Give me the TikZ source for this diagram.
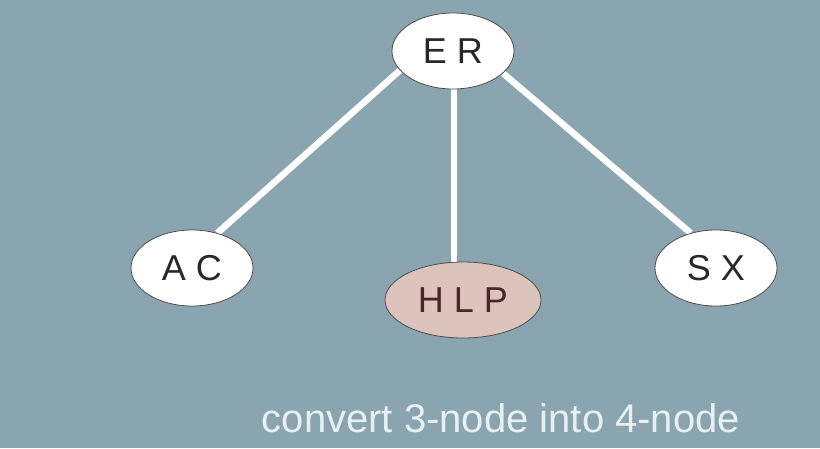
\documentclass[tikz,border=0pt]{standalone}
\usepackage{fontspec}
\setmainfont{Liberation Sans}
\usetikzlibrary{backgrounds,shapes.geometric}
\definecolor{slateback}{RGB}{138,165,175}
\definecolor{keypink}{RGB}{220,196,189}
\definecolor{keybrown}{RGB}{70,40,36}
\definecolor{keyink}{RGB}{40,40,40}
\definecolor{notewhite}{RGB}{232,240,244}

\begin{document}
\begin{tikzpicture}[x=1pt, y=-1pt,
    keynode/.style = {ellipse, draw = black!70, line width = 0.8pt, fill = white,
        text = keyink, minimum width = 122pt, minimum height = 76pt, inner sep = 0pt,
        font = \fontsize{36}{40}\selectfont},
    link/.style = {white, line width = 6.5pt}]
            \node[keynode] (ER) at (453,51) {E R};
            \node[keynode] (AC) at (192,268) {A C};
            \node[keynode, fill = keypink, text = keybrown, minimum width = 156pt] (HLP) at (463,300) {H L P};
            \node[keynode] (SX) at (716,268) {S X};
            \coordinate (stem) at (454,280);
            \begin{scope}[on background layer]
            \fill[slateback] (0,0) rectangle (820,448);
            \draw[link] (ER.200) -- (AC.54);
            \draw[link] (ER.south -| stem) -- (stem);
            \draw[link] (ER.336) -- (SX.126);
            \end{scope}
            \node[anchor = base, text = notewhite, font = \fontsize{40}{46}\selectfont] (note) at (501,432) {convert 3-node into 4-node};
        \end{tikzpicture}
\end{document}
